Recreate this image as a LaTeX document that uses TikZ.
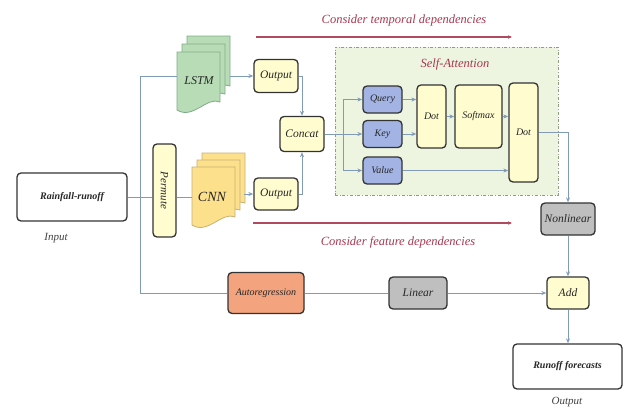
\documentclass[tikz,border=0pt]{standalone}
\usepackage{fontspec}
\setmainfont{Liberation Serif}
\usetikzlibrary{arrows.meta}
\definecolor{boxyellow}{HTML}{FFFDCF}
\definecolor{qkvblue}{HTML}{A3B4E4}
\definecolor{graybox}{HTML}{BFBFBF}
\definecolor{orangebox}{HTML}{F3A37E}
\definecolor{attgreen}{HTML}{EDF4E0}
\definecolor{attborder}{HTML}{8E9E80}
\definecolor{lstmgreen}{HTML}{B8DDB6}
\definecolor{lstmborder}{HTML}{7FAA88}
\definecolor{cnnyellow}{HTML}{FCE08C}
\definecolor{cnnborder}{HTML}{C8B074}
\definecolor{linecol}{HTML}{7F9BB8}
\definecolor{redline}{HTML}{B04A5E}
\definecolor{redtext}{HTML}{A8384F}
\newcommand{\docsheet}[2]{\filldraw[#1, shift={#2}] (0,0) -- (43,0) -- (43,50) .. controls (30,44) and (16,68) .. (0,58) -- cycle;}
\begin{document}
\begin{tikzpicture}[x=1pt,y=-1pt,
  box/.style={draw=black!80, line width=1.3pt, rounded corners=4pt, fill=boxyellow, inner sep=0pt,
    text=black!85, font=\itshape\fontsize{10}{12}\selectfont},
  bigbox/.style={box, font=\itshape\fontsize{11.5}{13}\selectfont},
  bigtxt/.style={font=\itshape\fontsize{11.5}{13}\selectfont, text=black!85},
  lbl/.style={font=\itshape\fontsize{11}{13}\selectfont, text=black!75},
  redlbl/.style={font=\itshape\fontsize{12.5}{14}\selectfont, text=redtext},
  conn/.style={draw=linecol, line width=1pt},
  arr/.style={conn, -{Stealth[length=5pt,width=4pt]}},
  redarr/.style={draw=redline, line width=1.6pt, -{Stealth[length=4pt,width=3.5pt]}},
  lstmsheet/.style={fill=lstmgreen, draw=lstmborder, line width=0.8pt},
  cnnsheet/.style={fill=cnnyellow, draw=cnnborder, line width=0.8pt}]
\useasboundingbox (0,0) rectangle (625,410);

% self-attention frame
\node[draw=attborder, dash dot, line width=0.9pt, fill=attgreen, minimum width=223, minimum height=148, inner sep=0pt] (att) at (446.5,121) {};
\node[redlbl] (attlbl) at (455,64) {Self-Attention};

% document stacks
\docsheet{lstmsheet}{(187,36)}
\docsheet{lstmsheet}{(182,44)}
\docsheet{lstmsheet}{(177,52)}
\node[minimum width=53, minimum height=77, inner sep=0pt] (lstm) at (203.5,73.5) {};
\node[bigtxt, font=\itshape\fontsize{12}{13}\selectfont] (lstmtxt) at (199,81) {LSTM};
\docsheet{cnnsheet}{(202,153)}
\docsheet{cnnsheet}{(197,160)}
\docsheet{cnnsheet}{(192,167)}
\node[minimum width=52, minimum height=74, inner sep=0pt] (cnn) at (218,190) {};
\node[bigtxt, font=\itshape\fontsize{14}{15}\selectfont] (cnntxt) at (212,197) {CNN};

% boxes
\node[box, fill=white, minimum width=110, minimum height=48, font=\bfseries\itshape\fontsize{10}{12}\selectfont] (rain) at (72,197) {Rainfall-runoff};
\node[lbl] (inlbl) at (56,238) {Input};
\node[box, minimum width=23, minimum height=93, font=\itshape\fontsize{11}{12}\selectfont] (perm) at (164.5,190.5) {\rotatebox{-90}{Permute}};
\node[bigbox, minimum width=44, minimum height=33] (out1) at (276,76) {Output};
\node[bigbox, minimum width=44, minimum height=32] (out2) at (276,194) {Output};
\node[bigbox, minimum width=44, minimum height=35] (concat) at (302,134) {Concat};
\node[box, fill=qkvblue, minimum width=39, minimum height=27] (query) at (382.5,99.5) {Query};
\node[box, fill=qkvblue, minimum width=39, minimum height=27] (key) at (382.5,134) {Key};
\node[box, fill=qkvblue, minimum width=39, minimum height=27] (value) at (382.5,170.5) {Value};
\node[box, minimum width=29, minimum height=63] (dot1) at (431.5,116.5) {Dot};
\node[box, minimum width=47, minimum height=63] (softmax) at (478.5,116.5) {Softmax};
\node[box, minimum width=29, minimum height=99] (dot2) at (523.5,132.5) {Dot};
\node[bigbox, fill=graybox, minimum width=54, minimum height=32] (nonlin) at (568,219) {Nonlinear};
\node[bigbox, minimum width=42, minimum height=32] (add) at (568,293) {Add};
\node[bigbox, fill=graybox, minimum width=58, minimum height=32] (linear) at (418,293) {Linear};
\node[box, fill=orangebox, minimum width=76, minimum height=41] (autoreg) at (266,293) {Autoregression};
\node[box, fill=white, minimum width=109, minimum height=45, font=\bfseries\itshape\fontsize{10}{12}\selectfont] (runoff) at (567.5,366.5) {Runoff forecasts};
\node[lbl] (outlbl) at (567,402) {Output};

% red annotations
\coordinate (t1) at (256,37);
\coordinate (t2) at (512,37);
\draw[redarr] (t1) -- (t2);
\node[redlbl] (tlbl) at (404,20) {Consider temporal dependencies};
\coordinate (f1) at (253,223);
\coordinate (f2) at (512,223);
\draw[redarr] (f1) -- (f2);
\node[redlbl] (flbl) at (398,242) {Consider feature dependencies};

% connectors
\coordinate (jt) at (140,76);
\coordinate (jb) at (140,293);
\draw[conn] (jt) -- (jb);
\draw[conn] (jt) -- (jt -| lstm.west);
\draw[conn] (rain.east) -- (rain.east -| perm.west);
\draw[conn] (perm.east |- rain.east) -- (rain.east -| cnn.west);
\draw[conn] (jb) -- (autoreg.west);
\draw[conn] (autoreg.east) -- (linear.west);
\draw[arr] (linear.east) -- (add.west);
\draw[arr] (lstm.east |- out1.west) -- (out1.west);
\draw[arr] (cnn.east |- out2.west) -- (out2.west);
\draw[arr] (out1.east) -| (concat.north);
\draw[arr] (out2.east) -| (concat.south);
\coordinate (br) at (343,134);
\draw[arr] (concat.east) -- (key.west);
\draw[arr] (br) |- (query.west);
\draw[arr] (br) |- (value.west);
\draw[arr] (query.east) -- (query.east -| dot1.west);
\draw[arr] (key.east) -- (key.east -| dot1.west);
\draw[arr] (dot1.east) -- (softmax.west);
\draw[arr] (softmax.east) -- (softmax.east -| dot2.west);
\draw[arr] (value.east) -- (value.east -| dot2.west);
\draw[arr] (dot2.east) -| (nonlin.north);
\draw[arr] (nonlin.south) -- (add.north);
\draw[arr] (add.south) -- (add.south |- runoff.north);
\end{tikzpicture}
\end{document}
